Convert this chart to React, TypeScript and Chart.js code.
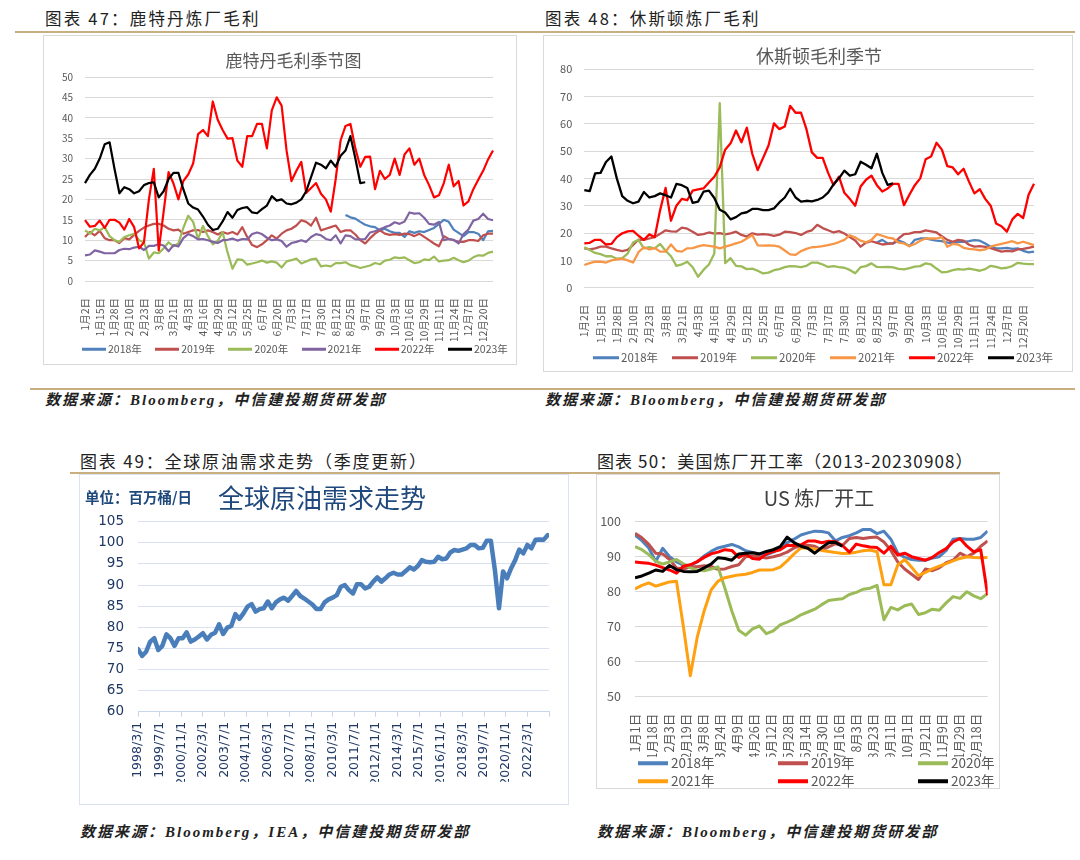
import React, { useEffect, useRef } from 'react';
import { Chart, registerables } from 'chart.js';

Chart.register(...registerables);

const FONT_CJK = '"Noto Sans CJK SC", "Liberation Sans", sans-serif';
const FONT_SRC = '"Liberation Serif", "Noto Sans CJK SC", serif';

// ---------- shared season-chart labels ----------
const seasonTickLabels = ['1月2日', '1月15日', '1月28日', '2月10日', '2月23日', '3月8日', '3月21日', '4月3日', '4月16日', '4月29日', '5月12日', '5月25日', '6月7日', '6月20日', '7月3日', '7月17日', '7月30日', '8月12日', '8月25日', '9月7日', '9月20日', '10月3日', '10月16日', '10月29日', '11月11日', '11月24日', '12月7日', '12月20日'];
const pointsPerTick = 3;
const seasonYears = ['2018年', '2019年', '2020年', '2021年', '2022年', '2023年'];

const gap = (n: number) => Array.from({ length: n }, () => null as number | null);

// ---------- 图表47 鹿特丹毛利 ----------
const rtm2018 = [...gap(53), 16.2, 15.6, 15.3, 14.5, 13.8, 13.4, 13.2, 12.4, 12.8, 12.2, 11.8, 11.8, 10.8, 12.2, 11.8, 12.2, 12.0, 12.5, 13.0, 14.0, 15.0, 14.5, 12.6, 11.8, 11.0, 12.0, 12.0, 11.6, 10.0, 12.2, 12.3];
const rtm2019 = [10.8, 12.0, 11.2, 12.3, 10.5, 10.0, 10.0, 9.3, 10.5, 10.2, 11.3, 12.3, 13.1, 13.6, 14.0, 14.0, 13.6, 12.8, 12.4, 12.6, 11.6, 12.0, 12.4, 12.5, 12.0, 12.4, 12.0, 11.4, 12.0, 11.6, 12.0, 11.4, 13.2, 10.8, 8.8, 8.3, 9.0, 10.0, 11.2, 10.4, 11.6, 12.4, 12.8, 13.6, 14.9, 14.5, 13.6, 15.5, 12.4, 12.8, 13.2, 13.6, 12.0, 12.4, 12.4, 11.4, 10.0, 9.2, 10.5, 11.6, 12.4, 11.6, 11.3, 11.5, 11.3, 11.6, 11.5, 11.0, 11.6, 10.8, 10.0, 9.2, 8.5, 11.0, 10.3, 10.0, 9.6, 9.6, 10.0, 10.0, 9.8, 11.2, 11.6, 11.6];
const rtm2020 = [12.4, 11.6, 12.8, 12.4, 13.2, 11.0, 10.0, 9.6, 10.8, 11.2, 11.6, 10.0, 9.5, 5.5, 7.0, 6.8, 8.0, 9.5, 8.5, 9.2, 13.0, 16.0, 14.5, 10.3, 13.5, 11.0, 9.0, 9.8, 12.0, 7.0, 3.0, 5.3, 5.2, 4.0, 4.3, 4.6, 5.0, 4.5, 4.8, 4.5, 3.3, 4.8, 5.1, 5.5, 4.3, 4.8, 5.3, 5.5, 3.6, 3.8, 3.6, 4.4, 4.4, 4.6, 3.9, 3.6, 3.2, 3.5, 3.8, 4.4, 4.1, 5.0, 5.2, 5.8, 5.6, 5.8, 5.1, 4.4, 4.6, 5.3, 5.1, 6.0, 4.8, 5.0, 5.1, 5.7, 5.1, 4.6, 5.0, 5.8, 6.3, 6.2, 6.9, 7.2];
const rtm2021 = [6.3, 6.5, 7.5, 7.2, 6.8, 6.8, 6.8, 7.6, 7.9, 7.8, 8.2, 8.4, 7.6, 8.6, 8.6, 9.0, 8.7, 7.3, 8.8, 8.5, 10.5, 11.5, 11.0, 10.2, 10.3, 10.0, 9.6, 9.3, 10.0, 10.1, 10.4, 9.9, 10.3, 10.2, 11.5, 11.9, 11.5, 10.6, 10.0, 10.2, 9.8, 8.4, 9.3, 9.6, 10.0, 9.6, 10.8, 11.5, 11.2, 10.3, 10.0, 11.2, 9.2, 11.2, 11.0, 10.2, 10.2, 10.3, 11.9, 12.2, 12.7, 13.2, 13.6, 14.4, 14.0, 14.6, 16.8, 16.5, 16.6, 15.5, 14.0, 13.8, 14.5, 10.0, 10.3, 10.1, 9.2, 11.5, 12.6, 14.8, 15.2, 16.5, 15.2, 14.9];
const rtm2022 = [14.9, 13.3, 13.5, 14.8, 13.0, 15.0, 15.0, 14.3, 12.6, 15.2, 13.2, 8.0, 9.5, 20.0, 27.5, 7.5, 17.0, 26.7, 23.9, 20.0, 24.5, 26.1, 28.8, 36.0, 37.0, 35.5, 44.0, 39.5, 37.0, 34.9, 35.0, 29.5, 28.0, 35.5, 35.5, 38.5, 38.5, 32.5, 41.8, 45.0, 43.0, 32.0, 24.5, 27.0, 29.2, 21.6, 22.8, 24.0, 21.4, 20.0, 17.0, 25.0, 34.5, 38.0, 38.5, 32.5, 28.0, 30.4, 30.5, 22.5, 27.0, 25.0, 26.0, 30.0, 26.0, 31.0, 32.5, 28.5, 30.0, 26.0, 23.5, 20.5, 21.0, 24.0, 28.5, 23.2, 24.5, 18.5, 19.5, 22.5, 24.8, 27.0, 29.8, 32.0];
const rtm2023 = [24.0, 26.0, 27.5, 30.0, 33.5, 34.0, 27.5, 21.5, 23.0, 22.5, 21.5, 22.0, 23.5, 24.0, 24.2, 20.5, 22.0, 25.0, 26.5, 26.5, 22.5, 19.0, 18.0, 17.5, 15.8, 13.8, 12.5, 12.8, 14.6, 16.9, 15.5, 17.4, 17.9, 18.1, 16.8, 16.6, 17.6, 18.5, 20.8, 19.7, 20.0, 19.0, 18.8, 19.2, 20.0, 22.0, 25.5, 29.0, 28.5, 27.6, 29.5, 28.0, 30.7, 32.0, 35.5, 30.0, 24.0, 24.2, ...gap(26)];
const rtmColors = ['#4F81BD', '#C0504D', '#9BBB59', '#8064A2', '#FF0000', '#000000'];

// ---------- 图表48 休斯顿毛利 ----------
const hou2018 = [...gap(54), 16.5, 17.5, 16.2, 16.2, 17.2, 16.5, 15.2, 17.5, 18.0, 18.0, 17.6, 17.2, 17.0, 16.5, 16.2, 16.8, 16.8, 17.0, 17.4, 17.2, 16.2, 15.0, 14.4, 14.4, 14.6, 14.2, 14.4, 13.5, 12.9, 13.2];
const hou2019 = [14.4, 14.0, 14.4, 15.0, 15.0, 14.4, 13.8, 13.4, 13.8, 15.6, 17.6, 17.5, 18.0, 18.5, 19.7, 21.0, 20.6, 20.5, 22.0, 21.6, 20.5, 19.3, 19.6, 20.2, 19.8, 20.0, 19.5, 19.9, 20.5, 19.3, 18.7, 19.9, 19.4, 19.6, 19.4, 19.0, 19.4, 20.5, 20.3, 20.0, 19.3, 20.4, 21.0, 23.0, 21.8, 21.0, 20.2, 20.7, 19.8, 18.5, 17.3, 15.0, 16.5, 17.0, 16.4, 15.8, 16.0, 16.2, 18.0, 19.6, 19.8, 20.3, 20.3, 21.0, 20.6, 20.2, 18.8, 17.5, 16.8, 17.5, 17.2, 15.7, 15.0, 15.2, 14.9, 14.5, 13.8, 13.2, 13.5, 13.3, 14.0, 14.2, 14.6, 15.0];
const hou2020 = [14.8, 13.8, 12.7, 12.3, 11.5, 11.5, 10.6, 10.8, 12.5, 16.5, 17.5, 14.4, 14.8, 14.4, 16.0, 13.5, 11.5, 8.0, 8.5, 9.5, 7.5, 4.0, 6.5, 8.5, 12.5, 67.5, 9.0, 10.8, 8.0, 7.8, 6.8, 7.0, 6.2, 5.2, 5.5, 6.4, 6.8, 7.5, 7.9, 7.8, 7.5, 8.0, 9.2, 9.2, 8.5, 7.6, 7.9, 7.5, 7.3, 6.5, 5.3, 7.5, 7.9, 8.9, 7.6, 7.5, 7.6, 7.4, 6.9, 6.7, 7.2, 7.7, 7.9, 8.9, 8.5, 7.0, 5.6, 5.8, 6.4, 6.8, 6.6, 7.0, 6.6, 6.2, 6.8, 8.0, 7.6, 7.1, 7.3, 7.9, 9.1, 8.8, 8.6, 8.6];
const hou2021 = [8.3, 9.0, 9.5, 9.5, 9.2, 10.0, 10.4, 10.6, 10.0, 9.2, 13.0, 14.8, 14.0, 14.5, 13.2, 13.2, 15.8, 13.5, 13.2, 14.4, 14.5, 15.1, 15.6, 15.3, 15.0, 14.4, 15.0, 15.6, 16.2, 16.8, 18.0, 19.3, 15.5, 15.4, 15.5, 15.4, 15.0, 13.6, 12.2, 12.0, 13.4, 14.2, 14.8, 14.9, 15.2, 15.6, 16.0, 16.7, 17.5, 19.2, 18.4, 17.2, 16.6, 17.5, 19.6, 19.0, 18.3, 18.0, 16.5, 16.2, 15.2, 16.0, 17.2, 18.0, 18.0, 18.0, 18.5, 15.0, 16.0, 15.8, 14.6, 14.2, 14.0, 13.7, 14.0, 15.0, 15.6, 16.0, 16.5, 17.0, 16.2, 16.8, 16.2, 15.6];
const hou2022 = [16.2, 16.4, 17.5, 17.5, 15.8, 16.0, 18.5, 19.9, 20.6, 20.8, 19.0, 17.5, 19.5, 18.5, 28.4, 36.5, 24.5, 30.0, 32.5, 32.0, 35.5, 36.0, 36.3, 38.5, 40.6, 44.0, 50.5, 52.8, 57.5, 53.2, 58.5, 49.0, 43.0, 47.5, 52.0, 60.1, 58.0, 59.0, 66.5, 64.0, 64.0, 58.0, 49.5, 47.5, 47.5, 42.0, 37.5, 40.6, 34.7, 32.5, 30.0, 37.0, 39.5, 41.0, 37.5, 35.2, 36.3, 38.0, 38.0, 30.2, 34.0, 37.5, 40.0, 47.0, 48.0, 53.0, 50.5, 44.5, 44.0, 41.5, 43.5, 38.8, 34.5, 36.0, 32.5, 30.0, 23.5, 22.5, 20.5, 25.0, 27.0, 25.5, 34.0, 38.0];
const hou2023 = [35.7, 35.3, 41.8, 42.0, 46.0, 48.0, 40.0, 33.5, 31.8, 30.9, 31.5, 35.0, 33.0, 33.5, 34.5, 33.8, 33.0, 38.0, 37.5, 36.5, 31.0, 31.5, 35.1, 35.5, 32.8, 28.5, 27.5, 25.0, 25.8, 27.2, 27.6, 28.8, 28.8, 28.4, 28.4, 29.0, 31.2, 33.0, 36.2, 33.0, 31.5, 31.8, 31.6, 32.1, 33.0, 34.8, 37.8, 40.0, 42.8, 41.0, 41.5, 46.1, 45.0, 43.7, 49.0, 42.0, 37.6, 38.2, ...gap(26)];
const houColors = ['#4F81BD', '#C0504D', '#9BBB59', '#F79646', '#FF0000', '#000000'];

// ---------- 图表49 全球原油需求 (quarterly from 1998Q1) ----------
const demandTickLabels = ['1998/3/1', '1999/7/1', '2000/11/1', '2002/3/1', '2003/7/1', '2004/11/1', '2006/3/1', '2007/7/1', '2008/11/1', '2010/3/1', '2011/7/1', '2012/11/1', '2014/3/1', '2015/7/1', '2016/11/1', '2018/3/1', '2019/7/1', '2020/11/1', '2022/3/1'];
const demandTickMonths = 16;
const demandAxisMonths = 304;
const monthsPerQuarter = 3;
const demandValues = [74.8, 73.2, 74.2, 76.6, 77.4, 74.6, 75.6, 78.3, 77.4, 75.6, 77.4, 77.4, 78.8, 76.6, 77.1, 77.8, 78.6, 77.1, 78.2, 78.7, 80.7, 78.4, 79.9, 80.3, 83.1, 82.0, 83.3, 84.9, 85.5, 83.7, 84.3, 84.5, 86.1, 84.5, 85.9, 86.6, 87.0, 86.3, 87.4, 88.6, 87.4, 86.8, 86.1, 85.4, 84.3, 84.3, 85.9, 86.6, 87.0, 87.6, 89.6, 90.0, 88.8, 88.0, 90.2, 90.2, 89.2, 89.6, 90.8, 91.8, 90.8, 91.6, 92.5, 92.9, 92.5, 92.5, 93.3, 94.2, 93.7, 94.5, 95.9, 95.5, 95.4, 95.5, 96.7, 96.1, 96.3, 97.7, 98.3, 98.1, 98.4, 98.7, 99.5, 99.5, 98.7, 98.8, 100.5, 100.5, 93.5, 84.5, 93.2, 91.6, 94.0, 95.9, 98.4, 97.5, 99.5, 98.7, 100.7, 100.8, 100.7, 101.8];

// ---------- 图表50 美国炼厂开工 (weekly) ----------
const usTickLabels = ['1月1日', '1月18日', '2月3日', '2月19日', '3月8日', '3月24日', '4月9日', '4月26日', '5月12日', '5月28日', '6月14日', '6月30日', '7月16日', '8月3日', '8月23日', '9月11日', '10月1日', '10月21日', '11月9日', '11月29日', '12月18日'];
const usTickStep = 2.465;
const us2018 = [96.2, 94.6, 92.5, 88.6, 92.4, 90.0, 88.5, 87.6, 87.5, 88.5, 90.2, 91.5, 92.5, 93.0, 93.5, 92.8, 91.7, 91.2, 90.8, 90.5, 91.3, 92.5, 94.0, 95.0, 96.2, 96.8, 97.3, 97.2, 96.8, 94.5, 95.5, 96.0, 96.8, 97.8, 97.8, 96.6, 97.3, 95.0, 91.0, 89.8, 89.2, 89.0, 89.0, 89.6, 90.0, 91.8, 95.0, 95.2, 95.0, 95.0, 95.5, 97.3];
const us2019 = [96.7, 95.4, 93.5, 91.0, 90.8, 89.2, 86.8, 86.5, 87.1, 87.1, 87.4, 87.2, 86.4, 86.5, 87.2, 87.7, 90.0, 90.2, 90.0, 89.6, 90.0, 90.5, 91.3, 92.5, 93.2, 93.3, 93.0, 91.9, 92.8, 93.7, 93.2, 95.2, 95.5, 95.2, 95.5, 95.6, 94.2, 91.8, 88.5, 86.5, 85.0, 83.5, 86.5, 86.0, 86.8, 88.3, 89.0, 91.0, 90.0, 91.0, 93.0, 94.5];
const us2020 = [92.9, 92.0, 90.6, 88.7, 87.9, 88.5, 89.2, 88.0, 86.8, 86.2, 86.0, 86.5, 87.1, 81.0, 74.5, 69.0, 67.6, 69.4, 70.2, 68.0, 68.8, 70.5, 71.3, 72.2, 73.4, 74.2, 75.0, 76.3, 77.5, 77.8, 78.0, 79.2, 79.8, 80.7, 81.0, 81.8, 72.0, 75.5, 74.8, 76.0, 76.5, 73.5, 74.0, 75.0, 74.7, 76.8, 78.6, 78.1, 80.0, 78.8, 78.0, 79.5];
const us2021 = [80.8, 81.8, 82.5, 81.6, 82.2, 82.8, 83.0, 70.0, 56.0, 67.0, 74.5, 80.5, 83.0, 84.0, 84.4, 84.8, 85.0, 85.5, 86.2, 86.2, 86.3, 87.0, 88.8, 90.8, 92.5, 92.5, 92.2, 91.8, 91.5, 91.2, 90.9, 91.0, 91.3, 91.7, 91.9, 91.4, 82.0, 82.0, 87.6, 89.2, 87.0, 84.6, 85.5, 86.5, 87.3, 88.0, 88.8, 89.5, 90.0, 89.8, 89.7, 89.8];
const us2022 = [88.5, 88.3, 88.1, 87.6, 86.9, 86.2, 85.3, 87.3, 87.7, 88.6, 89.8, 90.8, 91.3, 92.0, 91.8, 89.8, 90.8, 89.5, 89.3, 90.8, 91.5, 92.0, 93.3, 93.2, 93.4, 94.5, 94.5, 94.0, 94.4, 94.3, 93.2, 91.3, 93.6, 93.1, 92.8, 92.6, 91.0, 93.0, 90.5, 91.0, 90.0, 89.5, 89.0, 89.8, 91.2, 92.3, 94.2, 95.2, 93.0, 91.4, 92.0, 79.0];
const us2023 = [84.0, 84.5, 85.3, 86.2, 85.8, 87.5, 86.3, 85.8, 85.7, 85.8, 86.8, 87.9, 89.7, 89.5, 89.0, 90.8, 91.0, 91.1, 90.8, 91.5, 92.0, 92.9, 95.6, 94.0, 93.0, 92.4, 91.0, 92.6, 94.0, 94.1, 93.0];
const usColors = ['#4F81BD', '#C0504D', '#9BBB59', '#FFA011', '#FF0000', '#000000'];

// ---------- chart configs ----------
function seasonConfig(p: any) {
  const labels = p.data[1].map((_: any, i: number) => String(i));
  return {
    type: 'line',
    data: {
      labels,
      datasets: p.data.map((d: any, i: number) => ({
        label: seasonYears[i],
        data: d,
        borderColor: p.colors[i],
        backgroundColor: p.colors[i],
        borderWidth: p.lineWidth,
        pointRadius: 0,
        pointHoverRadius: 0,
        tension: 0,
        fill: false,
        order: 10 - i,
        borderJoinStyle: 'round',
      })),
    },
    options: {
      animation: false,
      responsive: false,
      maintainAspectRatio: false,
      events: [],
      layout: { padding: { left: 0, top: p.padTop, right: p.padRight, bottom: p.padBottom } },
      plugins: { legend: { display: false }, title: { display: false }, tooltip: { enabled: false } },
      scales: {
        x: {
          type: 'category',
          offset: false,
          grid: { display: false },
          border: { display: false },
          ticks: {
            autoSkip: false,
            maxRotation: 90,
            minRotation: 90,
            padding: p.xPad,
            color: '#595959',
            font: { family: FONT_CJK, size: p.xFont },
            callback: (_v: any, i: number) => (i % pointsPerTick === 0 ? seasonTickLabels[i / pointsPerTick] : ''),
          },
          afterFit: (s: any) => { s.height = p.xHeight; },
        },
        y: {
          min: 0,
          max: p.yMax,
          grid: { color: '#d9d9d9', drawTicks: false, lineWidth: 1 },
          border: { display: false },
          ticks: { stepSize: p.yStep, padding: p.yPad, color: '#595959', font: { family: FONT_CJK, size: p.yFont } },
          afterFit: (s: any) => { s.width = p.yWidth; },
        },
      },
    },
  };
}

const rtmConfig = () => seasonConfig({
  data: [rtm2018, rtm2019, rtm2020, rtm2021, rtm2022, rtm2023], colors: rtmColors,
  yMax: 50, yStep: 5, yFont: 10, xFont: 10.5, padTop: 42, padRight: 24, padBottom: 24,
  yWidth: 42, xHeight: 60, xPad: 9, yPad: 12, lineWidth: 2.2,
});

const houConfig = () => seasonConfig({
  data: [hou2018, hou2019, hou2020, hou2021, hou2022, hou2023], colors: houColors,
  yMax: 80, yStep: 10, yFont: 11, xFont: 10.5, padTop: 34, padRight: 39, padBottom: 24.3,
  yWidth: 41.3, xHeight: 60, xPad: 9, yPad: 12, lineWidth: 2.3,
});

const NAVY = '#1F3864';

const demandConfig = () => ({
  type: 'line',
  data: {
    datasets: [{
      label: '全球原油需求',
      data: demandValues.map((v, i) => ({ x: i * monthsPerQuarter, y: v })),
      borderColor: '#4A7EBB',
      borderWidth: 4.5,
      pointRadius: 0,
      tension: 0,
      borderJoinStyle: 'round',
      borderCapStyle: 'round',
    }],
  },
  options: {
    animation: false,
    responsive: false,
    maintainAspectRatio: false,
    events: [],
    layout: { padding: { left: 0, top: 47.7, right: 18, bottom: 23.3 } },
    plugins: { legend: { display: false }, title: { display: false }, tooltip: { enabled: false } },
    scales: {
      x: {
        type: 'linear',
        min: 0,
        max: demandAxisMonths,
        grid: { drawOnChartArea: false, drawTicks: true, tickLength: 5, color: '#c9d6ea' },
        border: { display: true, color: '#c9d6ea' },
        afterBuildTicks: (s: any) => {
          const t = demandTickLabels.map((_, i) => ({ value: i * demandTickMonths }));
          t.push({ value: demandAxisMonths });
          s.ticks = t;
        },
        ticks: {
          autoSkip: false,
          maxRotation: 90,
          minRotation: 90,
          padding: 5,
          color: NAVY,
          font: { family: '"DejaVu Sans", sans-serif', size: 12.5 },
          callback: (_v: any, i: number) => demandTickLabels[i] ?? '',
        },
        afterFit: (s: any) => { s.height = 70; },
      },
      y: {
        min: 60,
        max: 105,
        grid: { color: '#d9e2f1', drawTicks: false },
        border: { display: false },
        ticks: { stepSize: 5, padding: 14, color: NAVY, font: { family: '"DejaVu Sans", sans-serif', size: 13.5 } },
        afterFit: (s: any) => { s.width = 59; },
      },
    },
  },
});

const usConfig = () => ({
  type: 'line',
  data: {
    datasets: [us2018, us2019, us2020, us2021, us2022, us2023].map((d, i) => ({
      label: seasonYears[i],
      data: d.map((y, k) => ({ x: k, y })),
      borderColor: usColors[i],
      backgroundColor: usColors[i],
      borderWidth: 3,
      pointRadius: 0,
      tension: 0,
      order: 10 - i,
      borderJoinStyle: 'round',
    })),
  },
  options: {
    animation: false,
    responsive: false,
    maintainAspectRatio: false,
    events: [],
    layout: { padding: { left: 0, top: 47.7, right: 3, bottom: 32.3 } },
    plugins: { legend: { display: false }, title: { display: false }, tooltip: { enabled: false } },
    scales: {
      x: {
        type: 'linear',
        min: 0,
        max: 51,
        grid: { display: false },
        border: { display: false },
        afterBuildTicks: (s: any) => { s.ticks = usTickLabels.map((_, i) => ({ value: i * usTickStep })); },
        ticks: {
          autoSkip: false,
          maxRotation: 90,
          minRotation: 90,
          padding: 9,
          color: '#595959',
          font: { family: FONT_CJK, size: 12.5 },
          callback: (_v: any, i: number) => usTickLabels[i] ?? '',
        },
        afterFit: (s: any) => { s.height = 60; },
      },
      y: {
        min: 50,
        max: 100,
        grid: { color: '#d9d9d9', drawTicks: false },
        border: { display: false },
        ticks: { stepSize: 10, padding: 14, color: '#595959', font: { family: FONT_CJK, size: 12.5 } },
        afterFit: (s: any) => { s.width = 39; },
      },
    },
  },
});

// ---------- components ----------
function ChartCanvas({ left, top, width, height, make }: any) {
  const ref = useRef<HTMLCanvasElement>(null);
  useEffect(() => {
    const chart = new Chart(ref.current as HTMLCanvasElement, make());
    return () => chart.destroy();
  }, []);
  return <canvas ref={ref} width={width} height={height} style={{ position: 'absolute', left, top, width, height }} />;
}

function Txt({ x, y, size, children, color = '#222', weight = 400, italic = false, spacing = 0, center = false, family = FONT_CJK }: any) {
  return (
    <div style={{
      position: 'absolute', left: x, top: y,
      transform: center ? 'translate(-50%, -50%)' : 'translateY(-50%)',
      fontSize: size, lineHeight: 1, color, fontWeight: weight,
      fontStyle: italic ? 'italic' : 'normal', letterSpacing: spacing,
      whiteSpace: 'nowrap', fontFamily: family,
    }}>{children}</div>
  );
}

function HLine({ x, y, w, color = '#C9AE80', h = 1.5 }: any) {
  return <div style={{ position: 'absolute', left: x, top: y, width: w, height: h, background: color }} />;
}

function Box({ x, y, w, h, color = '#d9d9d9' }: any) {
  return <div style={{ position: 'absolute', left: x, top: y, width: w, height: h, border: `1px solid ${color}`, boxSizing: 'border-box' }} />;
}

function Legend({ x, y, spacing, items, colors, lineW, lineH, size, gap: g }: any) {
  return (
    <>
      {items.map((label: string, i: number) => (
        <div key={label} style={{ position: 'absolute', left: x + i * spacing, top: y, transform: 'translateY(-50%)', display: 'flex', alignItems: 'center', whiteSpace: 'nowrap' }}>
          <span style={{ display: 'inline-block', width: lineW, height: lineH, background: colors[i], marginRight: g }} />
          <span style={{ fontSize: size, lineHeight: 1, color: '#595959', fontFamily: FONT_CJK }}>{label}</span>
        </div>
      ))}
    </>
  );
}

export default function App() {
  return (
    <div style={{ position: 'absolute', left: 0, top: 0, width: 1080, height: 860, overflow: 'hidden', background: '#fff', fontFamily: FONT_CJK }}>
      {/* top section headers */}
      <Txt x={45} y={18} size={16.5} spacing={2.2}>图表 47：鹿特丹炼厂毛利</Txt>
      <Txt x={545} y={18} size={16.5} spacing={2.2}>图表 48：休斯顿炼厂毛利</Txt>
      <HLine x={15} y={31} w={1060} />

      {/* chart 47 */}
      <Box x={43} y={35} w={474} h={330} />
      <ChartCanvas left={43} top={35} width={474} height={330} make={rtmConfig} />
      <Txt x={293.5} y={59} size={17} color="#595959" center>鹿特丹毛利季节图</Txt>
      <Legend x={82} y={349} spacing={73.2} items={seasonYears} colors={rtmColors} lineW={24} lineH={2.5} size={10.5} gap={2} />

      {/* chart 48 */}
      <Box x={543} y={35} w={530} h={337} />
      <ChartCanvas left={543} top={35} width={530} height={337} make={houConfig} />
      <Txt x={819} y={55} size={18} color="#595959" center>休斯顿毛利季节</Txt>
      <Legend x={593} y={358} spacing={79} items={seasonYears} colors={houColors} lineW={26} lineH={3} size={11.5} gap={2} />

      <HLine x={30} y={388} w={1045} />
      <Txt x={45} y={400} size={15} weight={700} italic spacing={2} family={FONT_SRC}>数据来源：Bloomberg，中信建投期货研发部</Txt>
      <Txt x={545} y={400} size={15} weight={700} italic spacing={2} family={FONT_SRC}>数据来源：Bloomberg，中信建投期货研发部</Txt>

      {/* bottom section headers */}
      <Txt x={80} y={460} size={17} spacing={1.8}>图表 49：全球原油需求走势（季度更新）</Txt>
      <Txt x={597} y={460} size={17} spacing={1.1}>图表 50：美国炼厂开工率（2013-20230908）</Txt>
      <HLine x={70} y={472} w={930} />

      {/* chart 49 */}
      <Box x={79} y={474} w={490} h={331} color="#dae3f3" />
      <ChartCanvas left={79} top={474} width={490} height={331} make={demandConfig} />
      <Txt x={85} y={497} size={14.5} weight={700} color="#1F497D">单位：百万桶/日</Txt>
      <Txt x={218} y={497} size={26} color="#1F497D">全球原油需求走势</Txt>

      {/* chart 50 */}
      <Box x={596} y={474} w={404} h={315} />
      <ChartCanvas left={596} top={474} width={404} height={315} make={usConfig} />
      <Txt x={819} y={498} size={20} color="#404040" center>US 炼厂开工</Txt>
      <Legend x={638} y={763} spacing={140} items={seasonYears.slice(0, 3)} colors={usColors.slice(0, 3)} lineW={30} lineH={4} size={13.5} gap={3} />
      <Legend x={638} y={781} spacing={140} items={seasonYears.slice(3)} colors={usColors.slice(3)} lineW={30} lineH={4} size={13.5} gap={3} />

      <Txt x={80} y={832} size={15} weight={700} italic spacing={2} family={FONT_SRC}>数据来源：Bloomberg，IEA，中信建投期货研发部</Txt>
      <Txt x={597} y={832} size={15} weight={700} italic spacing={2} family={FONT_SRC}>数据来源：Bloomberg，中信建投期货研发部</Txt>
    </div>
  );
}
